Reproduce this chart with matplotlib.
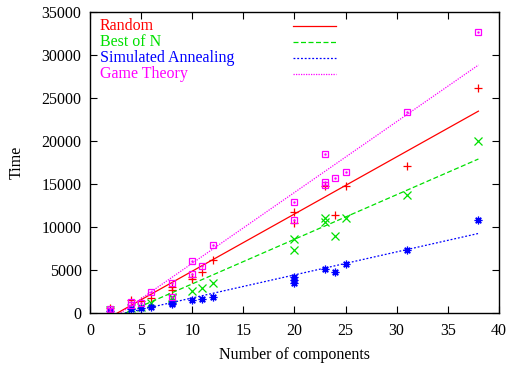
import numpy as np
import matplotlib
matplotlib.use('Agg')
import matplotlib.pyplot as plt

plt.rcParams['font.family'] = ['Liberation Serif', 'DejaVu Serif']

# data
random_x = [2, 4, 5, 6, 8, 8, 10, 10, 11, 12, 20, 20, 23, 24, 25, 31, 38]
random_y = [600, 1500, 1400, 1700, 2700, 3000, 4000, 4200, 4800, 6100, 11700, 10500, 14800, 11400, 14800, 17100, 26200]

bestn_x = [2, 4, 5, 6, 8, 8, 10, 11, 12, 20, 20, 23, 23, 24, 25, 31, 38]
bestn_y = [300, 600, 700, 1100, 1700, 1900, 2600, 2900, 3500, 8600, 7300, 11100, 10600, 8900, 11100, 13700, 20000]

sa_x = [2, 4, 5, 6, 8, 8, 10, 11, 12, 20, 20, 20, 23, 24, 25, 31, 38]
sa_y = [200, 500, 600, 700, 1000, 1200, 1500, 1600, 1900, 4200, 3800, 3500, 5100, 4800, 5700, 7350, 10800]

gt_x = [2, 2, 4, 4, 5, 6, 8, 8, 10, 10, 11, 12, 20, 20, 23, 23, 23, 24, 25, 31, 38]
gt_y = [400, 200, 1300, 900, 1200, 2400, 3500, 1900, 6000, 4500, 5500, 7900, 12900, 10800, 18500, 15200, 14900, 15700, 16400, 23400, 32700]

labels = ['Random', 'Best of N', 'Simulated Annealing', 'Game Theory']
colors = ['#ff0000', '#00e000', '#0000ff', '#ff00ff']
# fitted lines (slope, intercept)
fit_slope = [665, 519, 268, 824]
fit_intercept = [-1796, -1816, -939, -2472]

fig = plt.figure(figsize=(5.08, 3.66), dpi=100)
ax = fig.add_axes([0.177, 0.145, 0.805, 0.822])

series = [(random_x, random_y), (bestn_x, bestn_y), (sa_x, sa_y), (gt_x, gt_y)]
markers = ['+', 'x', (8, 2, 0), 's']
styles = ['-', (0, (4, 2)), (0, (1.5, 1.5)), (0, (1, 1))]

xs = np.linspace(2, 38, 200)
for i, (x, y) in enumerate(series):
    if markers[i] == 's':
        ax.plot(x, y, linestyle='none', marker='s', ms=5, mfc='none', mec=colors[i], mew=0.9)
        ax.plot(x, y, linestyle='none', marker='.', ms=1.5, color=colors[i])
    else:
        ax.plot(x, y, linestyle='none', marker=markers[i], ms=5.5, color=colors[i], mew=0.9)
    ax.plot(xs, fit_slope[i] * xs + fit_intercept[i], color=colors[i], lw=0.9,
            linestyle=styles[i])

    # gnuplot style key: text left, sample on the right
    ty = 0.955 - i * 0.0535
    ax.text(0.024, ty, labels[i], color=colors[i], fontsize=11.5,
            transform=ax.transAxes, va='center', ha='left')
    ax.plot([0.496, 0.601], [ty, ty], color=colors[i], lw=0.9, linestyle=styles[i],
            transform=ax.transAxes)

ax.set_xlim(0, 40)
ax.set_ylim(0, 35000)
ax.set_xticks(range(0, 41, 5))
ax.set_yticks(range(0, 35001, 5000))
ax.tick_params(direction='in', top=True, right=True, length=5, labelsize=11.5, width=0.8)
ax.tick_params(axis='x', pad=7)
ax.tick_params(axis='y', pad=6)
ax.set_xlabel('Number of components', fontsize=11.5, labelpad=6)
ax.set_ylabel('Time', fontsize=11.5, labelpad=12)
for s in ax.spines.values():
    s.set_linewidth(1.0)

fig.savefig('out.png', dpi=100)
